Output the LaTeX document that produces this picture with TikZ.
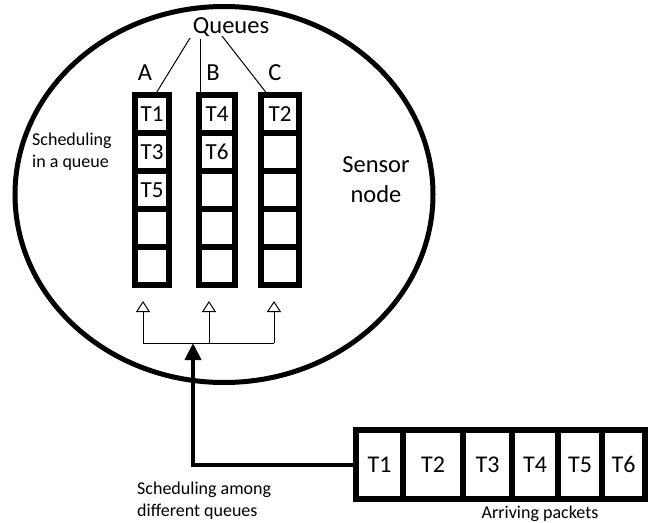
\documentclass[tikz,border=0pt]{standalone}
\usepackage{fontspec}
\setmainfont{Carlito}
\usetikzlibrary{arrows.meta,positioning,calc}
\tikzset{
  cell/.style={draw, line width=5.5pt, inner sep=0pt, outer sep=0pt, minimum height=38pt, font=\fontsize{23}{27}\selectfont},
  pkt/.style={draw, line width=5.5pt, inner sep=0pt, outer sep=0pt, minimum height=69pt, font=\fontsize{24}{28}\selectfont},
  caption/.style={inner sep=0pt, align=left, font=\fontsize{18}{22}\selectfont},
  big/.style={inner sep=0pt, font=\fontsize{24.5}{30}\selectfont},
  feed/.style={line width=1pt, -{Triangle[open, width=14pt, length=11pt]}, shorten >=16pt},
}
\begin{document}
\begin{tikzpicture}[x=1pt, y=-1pt]
  \useasboundingbox (0,0) rectangle (650,522);
  % sensor node
  \draw[line width=5pt] (224,194.5) ellipse [x radius=209pt, y radius=188pt];
  \node[big, align=center] (sensor) at (376,180) {Sensor\\node};
  \node[caption, anchor=west] (inq) at (32,152) {Scheduling\\in a queue};
  % queues
  \node[big] (Queues) at (231,27) {Queues};
  \node[big] (labA) at (145,73) {A};
  \node[big] (labB) at (213,73) {B};
  \node[big] (labC) at (275,73) {C};
  \node[cell, minimum width=34pt] (A1) at (152,114) {T1};
  \node[cell, minimum width=34pt, below=0pt of A1] (A2) {T3};
  \node[cell, minimum width=34pt, below=0pt of A2] (A3) {T5};
  \node[cell, minimum width=34pt, below=0pt of A3] (A4) {};
  \node[cell, minimum width=34pt, below=0pt of A4] (A5) {};
  \node[cell, minimum width=36pt] (B1) at (217,114) {T4};
  \node[cell, minimum width=36pt, below=0pt of B1] (B2) {T6};
  \node[cell, minimum width=36pt, below=0pt of B2] (B3) {};
  \node[cell, minimum width=36pt, below=0pt of B3] (B4) {};
  \node[cell, minimum width=36pt, below=0pt of B4] (B5) {};
  \node[cell, minimum width=38pt] (C1) at (280,114) {T2};
  \node[cell, minimum width=38pt, below=0pt of C1] (C2) {};
  \node[cell, minimum width=38pt, below=0pt of C2] (C3) {};
  \node[cell, minimum width=38pt, below=0pt of C3] (C4) {};
  \node[cell, minimum width=38pt, below=0pt of C4] (C5) {};
  \draw[line width=1pt] ($(Queues.center)+(-41,11)$) -- ([xshift=3pt]A1.north);
  \draw[line width=1pt] ($(Queues.center)+(-31,12)$) -- ([xshift=1pt]B1.north west);
  \draw[line width=1pt] ($(Queues.center)+(-9,9)$) -- ([xshift=-12pt]C1.north);
  % arriving packets
  \node[pkt, minimum width=47pt] (P1) at (379.5,464.5) {T1};
  \node[pkt, minimum width=60pt, right=0pt of P1] (P2) {T2};
  \node[pkt, minimum width=49pt, right=0pt of P2] (P3) {T3};
  \node[pkt, minimum width=46pt, right=0pt of P3] (P4) {T4};
  \node[pkt, minimum width=44pt, right=0pt of P4] (P5) {T5};
  \node[pkt, minimum width=43pt, right=0pt of P5] (P6) {T6};
  \node[caption] (arr) at (540,514) {Arriving packets};
  \node[caption, anchor=west] (among) at (137,501) {Scheduling among\\different queues};
  % distribution to the queues
  \coordinate (busL) at (143,343);
  \coordinate (busM) at (209,343);
  \coordinate (busR) at (274,343);
  \coordinate (bus) at (193,343);
  \draw[line width=1pt] (busL) -- (busR);
  \draw[feed] (busL) -- (busL |- A5.south);
  \draw[feed] (busM) -- (busM |- B5.south);
  \draw[feed] (busR) -- (busR |- C5.south);
  \draw[line width=4pt, -{Triangle[width=16pt, length=17pt]}] (P1.west) -| (bus);
\end{tikzpicture}
\end{document}
